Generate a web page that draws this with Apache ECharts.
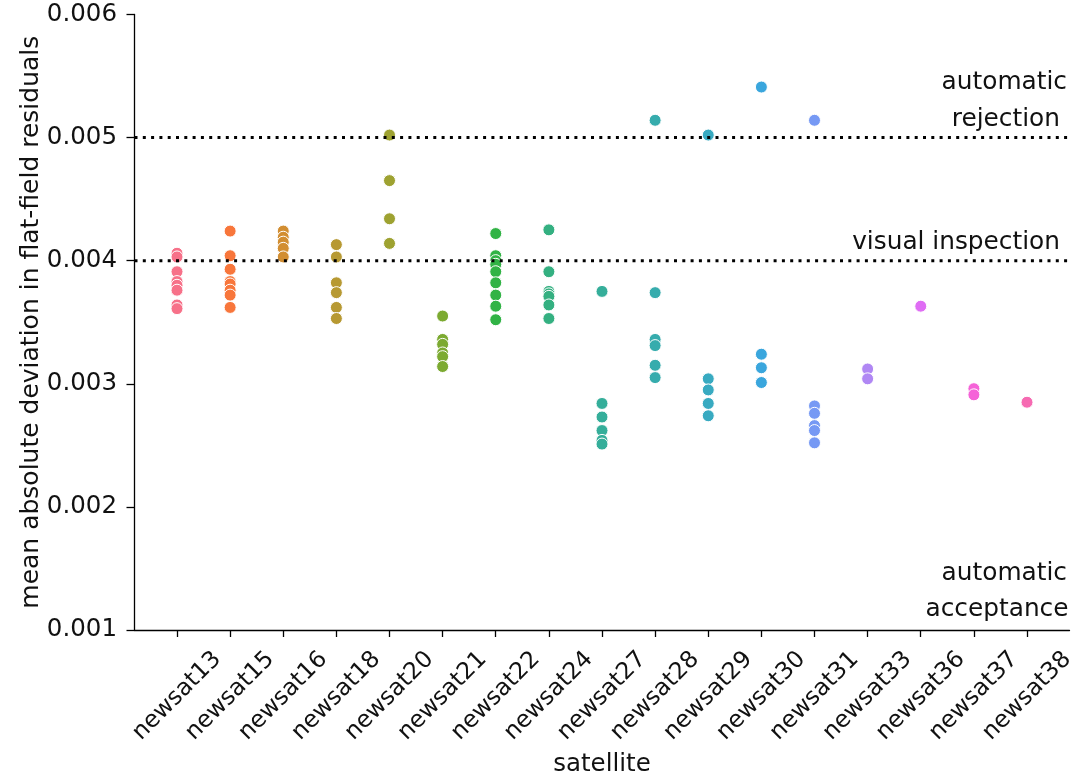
<!DOCTYPE html>
<html>
<head>
<meta charset="utf-8">
<script src="https://cdn.jsdelivr.net/npm/echarts@6/dist/echarts.min.js"></script>
<style>
  html, body { margin: 0; padding: 0; background: #fff; }
  #chart { width: 1074px; height: 779px; }
</style>
</head>
<body>
<div id="chart"></div>
<script>
// Satellites on the x axis, in plotting order
const satellites = ['newsat13', 'newsat15', 'newsat16', 'newsat18', 'newsat20', 'newsat21',
  'newsat22', 'newsat24', 'newsat27', 'newsat28', 'newsat29', 'newsat30', 'newsat31',
  'newsat33', 'newsat36', 'newsat37', 'newsat38'];

// Mean absolute deviation in flat-field residuals, one array per satellite
const newsat13 = [0.00406, 0.00403, 0.00391, 0.00383, 0.00380, 0.00376, 0.00364, 0.00361];
const newsat15 = [0.00424, 0.00404, 0.00393, 0.00383, 0.00381, 0.00376, 0.00372, 0.00362];
const newsat16 = [0.00424, 0.00419, 0.00415, 0.00410, 0.00403];
const newsat18 = [0.00413, 0.00403, 0.00382, 0.00374, 0.00362, 0.00353];
const newsat20 = [0.00502, 0.00465, 0.00434, 0.00414];
const newsat21 = [0.00355, 0.00336, 0.00332, 0.00325, 0.00322, 0.00314];
const newsat22 = [0.00422, 0.00404, 0.00400, 0.00397, 0.00391, 0.00382, 0.00372, 0.00363, 0.00352];
const newsat24 = [0.00425, 0.00391, 0.00375, 0.00373, 0.00371, 0.00364, 0.00353];
const newsat27 = [0.00375, 0.00284, 0.00273, 0.00262, 0.00254, 0.00251];
const newsat28 = [0.00514, 0.00374, 0.00336, 0.00331, 0.00315, 0.00305];
const newsat29 = [0.00502, 0.00304, 0.00295, 0.00284, 0.00274];
const newsat30 = [0.00541, 0.00324, 0.00313, 0.00301];
const newsat31 = [0.00514, 0.00282, 0.00276, 0.00266, 0.00262, 0.00252];
const newsat33 = [0.00312, 0.00304];
const newsat36 = [0.00363];
const newsat37 = [0.00296, 0.00291];
const newsat38 = [0.00285];

const valuesBySatellite = [newsat13, newsat15, newsat16, newsat18, newsat20, newsat21,
  newsat22, newsat24, newsat27, newsat28, newsat29, newsat30, newsat31,
  newsat33, newsat36, newsat37, newsat38];

// Quality thresholds (horizontal dotted lines)
const rejectionLevel = 0.005;
const inspectionLevel = 0.004;

// y-axis ticks
const yTicks = [0.001, 0.002, 0.003, 0.004, 0.005, 0.006];

// ---- HUSL colour palette (evenly spaced hues) ----
const M = [
  [3.240969941904521, -1.537383177570093, -0.498610760293],
  [-0.96924363628087, 1.87596750150772, 0.041555057407175],
  [0.055630079696993, -0.20397695888897, 1.056971514242878]
];
const KAPPA = 903.2962962, EPS = 0.0088564516;
const REF_U = 0.19783000664283, REF_V = 0.46831999493879;
function hBounds(L) {
  const sub1 = Math.pow(L + 16, 3) / 1560896;
  const sub2 = sub1 > EPS ? sub1 : L / KAPPA;
  const out = [];
  for (const [m1, m2, m3] of M) {
    for (const t of [0, 1]) {
      const top1 = (284517 * m1 - 94839 * m3) * sub2;
      const top2 = (838422 * m3 + 769860 * m2 + 731718 * m1) * L * sub2 - 769860 * t * L;
      const bottom = (632260 * m3 - 126452 * m2) * sub2 + 126452 * t;
      out.push([top1 / bottom, top2 / bottom]);
    }
  }
  return out;
}
function maxChroma(L, H) {
  const hr = H / 360 * Math.PI * 2;
  let min = Infinity;
  for (const [s, i] of hBounds(L)) {
    const len = i / (Math.sin(hr) - s * Math.cos(hr));
    if (len >= 0) min = Math.min(min, len);
  }
  return min;
}
function huslToHex(H, S, L) {
  const C = maxChroma(L, H) / 100 * S;
  const hr = H / 360 * 2 * Math.PI;
  const U = C * Math.cos(hr), V = C * Math.sin(hr);
  const Y = L <= 8 ? L / KAPPA : Math.pow((L + 16) / 116, 3);
  const vu = U / (13 * L) + REF_U, vv = V / (13 * L) + REF_V;
  const X = -(9 * Y * vu) / ((vu - 4) * vv - vu * vv);
  const Z = (9 * Y - 15 * vv * Y - vv * X) / (3 * vv);
  return '#' + M.map(r => {
    let c = r[0] * X + r[1] * Y + r[2] * Z;
    c = c <= 0.0031308 ? 12.92 * c : 1.055 * Math.pow(c, 1 / 2.4) - 0.055;
    c = Math.min(1, Math.max(0, c));
    return Math.round(c * 255).toString(16).padStart(2, '0');
  }).join('');
}
function huslPalette(n) {
  const cols = [];
  for (let k = 0; k < n; k++) {
    const h = ((k / n + 0.01) % 1) * 359;
    cols.push(huslToHex(h, 0.9 * 99, 0.65 * 99));
  }
  return cols;
}
const palette = huslPalette(satellites.length);

// ---- Chart ----
const FONT = 'DejaVu Sans';
const TEXT = '#111';
const xMin = -0.8, xMax = satellites.length - 1 + 0.8;
const chart = echarts.init(document.getElementById('chart'), null, { renderer: 'canvas' });

const pointSeries = satellites.map((name, i) => ({
  name: name,
  type: 'scatter',
  z: 2,
  symbol: 'circle',
  symbolSize: 12,
  itemStyle: { color: palette[i], borderColor: '#fff', borderWidth: 1, opacity: 1 },
  emphasis: { disabled: true },
  data: valuesBySatellite[i].map(v => [i, v])
}));

function thresholdSeries(name, level) {
  return {
    name: name,
    type: 'line',
    z: 5,
    silent: true,
    symbol: 'none',
    lineStyle: { color: '#000', width: 3, type: [3, 5.3], cap: 'butt' },
    data: [[xMin, level], [xMax, level]]
  };
}

chart.setOption({
  animation: false,
  backgroundColor: '#fff',
  grid: { left: 134.5, right: 4.5, top: 14.4, bottom: 149, containLabel: false, outerBoundsMode: 'none' },
  xAxis: {
    type: 'value',
    min: xMin,
    max: xMax,
    name: 'satellite',
    nameLocation: 'middle',
    nameGap: 135,
    nameMoveOverlap: false,
    nameTextStyle: { fontFamily: FONT, fontSize: 24.5, color: TEXT, verticalAlign: 'middle' },
    splitLine: { show: false },
    axisLine: { show: true, onZero: false, lineStyle: { color: '#000', width: 1.3 } },
    axisTick: { show: true, length: 7, lineStyle: { color: '#000', width: 1.3 },
      customValues: satellites.map((s, i) => i) },
    axisLabel: {
      customValues: satellites.map((s, i) => i),
      formatter: v => satellites[Math.round(v)] || '',
      rotate: 45,
      align: 'center',
      verticalAlign: 'middle',
      margin: 66,
      fontFamily: FONT, fontSize: 23.5, color: TEXT
    }
  },
  yAxis: {
    type: 'value',
    min: yTicks[0],
    max: yTicks[yTicks.length - 1],
    interval: 0.001,
    name: 'mean absolute deviation in flat-field residuals',
    nameLocation: 'middle',
    nameGap: 103,
    nameMoveOverlap: false,
    nameRotate: 90,
    nameTextStyle: { fontFamily: FONT, fontSize: 25, color: TEXT, align: 'center', verticalAlign: 'middle' },
    splitLine: { show: false },
    axisLine: { show: true, onZero: false, lineStyle: { color: '#000', width: 1.3 } },
    axisTick: { show: true, length: 8, lineStyle: { color: '#000', width: 1.3 } },
    axisLabel: {
      formatter: v => v.toFixed(3),
      margin: 17.5,
      fontFamily: FONT, fontSize: 24.5, color: TEXT
    }
  },
  series: pointSeries.concat([
    thresholdSeries('automatic rejection', rejectionLevel),
    thresholdSeries('visual inspection', inspectionLevel)
  ])
});

// Region labels, anchored to the right end of the axis and the threshold levels
function px(x, y) { return chart.convertToPixel({ gridIndex: 0 }, [x, y]); }
const right = px(xMax, 0)[0];
const bottomY = px(xMax, yTicks[0])[1];
const rejY = px(xMax, rejectionLevel)[1];
const insY = px(xMax, inspectionLevel)[1];
const BASE = 6.5; // baseline offset below the middle of a text line
function label(text, xRight, baseline) {
  return {
    type: 'text', z: 10, silent: true,
    style: { text: text, x: xRight, y: baseline - BASE, align: 'right', verticalAlign: 'middle',
      fontFamily: FONT, fontSize: 24.8, fill: TEXT }
  };
}
chart.setOption({
  graphic: [
    label('automatic', right - 2.5, rejY - 48.4),
    label('rejection', right - 9.5, rejY - 11.7),
    label('visual inspection', right - 9.5, insY - 12),
    label('automatic', right - 2.5, bottomY - 49.5),
    label('acceptance', right - 1, bottomY - 14)
  ]
});
</script>
</body>
</html>
